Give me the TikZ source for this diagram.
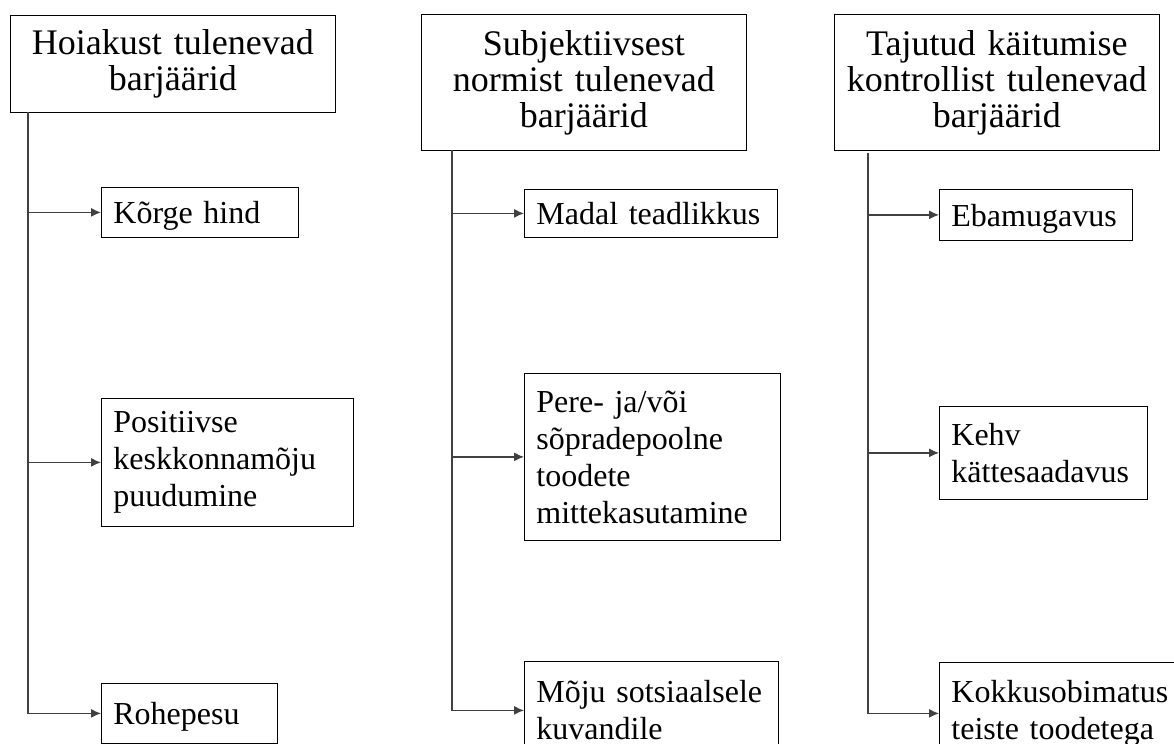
\documentclass[tikz,border=0pt]{standalone}
\usepackage{fontspec}
\setmainfont{Liberation Serif}
\usepackage{tikz}
\usetikzlibrary{positioning,arrows.meta}

\begin{document}
\begin{tikzpicture}[x=0.5pt, y=-0.5pt,
        header/.style={draw, anchor=north west, align=center, inner xsep=6pt,
            text width=150.5pt, minimum height=#1, font=\fontsize{18pt}{18pt}\selectfont},
        barrier/.style={draw, anchor=north west, align=left, inner xsep=6pt,
            font=\fontsize{16pt}{18.5pt}\selectfont},
        oneline/.style={barrier, text depth=0pt},
        link/.style={draw=black!75, line width=0.6pt, -{Latex[length=5pt,width=4.5pt]}}]
            \useasboundingbox (0,0) rectangle (1174,744);
            % headers
            \node[header=48.5pt] (h1) at (10,15)  {Hoiakust tulenevad\\barjäärid};
            \node[header=68pt]   (h2) at (421,14) {Subjektiivsest\\normist tulenevad\\barjäärid};
            \node[header=68pt]   (h3) at (834,14) {Tajutud käitumise\\kontrollist tulenevad\\barjäärid};
            % barriers
            \node[oneline, text width=86.5pt,  minimum height=25pt]   (c11) at (101,187) {Kõrge hind};
            \node[barrier, text width=114pt,   minimum height=64pt]   (c12) at (101,398) {Positiivse\\keskkonnamõju\\puudumine};
            \node[oneline, text width=76pt,    minimum height=30pt]   (c13) at (101,683) {Rohepesu};
            \node[oneline, text width=114.5pt, minimum height=24pt]   (c21) at (524,189) {Madal teadlikkus};
            \node[barrier, text width=116pt,   minimum height=83.5pt] (c22) at (524,373) {Pere- ja/või\\sõpradepoolne\\toodete\\mittekasutamine};
            \node[barrier, text width=115pt,   minimum height=49pt]   (c23) at (524,661) {Mõju sotsiaalsele\\kuvandile};
            \node[oneline, text width=84.5pt,  minimum height=25.5pt] (c31) at (939,189) {Ebamugavus};
            \node[barrier, text width=92pt,    minimum height=46.5pt] (c32) at (939,406) {Kehv\\kättesaadavus};
            \node[barrier, text width=108.5pt, minimum height=51pt]   (c33) at (939,662) {Kokkusobimatus\\teiste toodetega};
            % trunks
            \coordinate (r1) at (28,112);
            \coordinate (r2) at (452,150);
            \coordinate (r3) at (868,153);
            \draw[link] (r1) |- (c13.west);
            \draw[link] (r1 |- c11.west) -- (c11.west);
            \draw[link] (r1 |- c12.west) -- (c12.west);
            \draw[link] (r2) |- (c23.west);
            \draw[link] (r2 |- c21.west) -- (c21.west);
            \draw[link] (r2 |- c22.west) -- (c22.west);
            \draw[link] (r3) |- (c33.west);
            \draw[link] (r3 |- c31.west) -- (c31.west);
            \draw[link] (r3 |- c32.west) -- (c32.west);
        \end{tikzpicture}
\end{document}
